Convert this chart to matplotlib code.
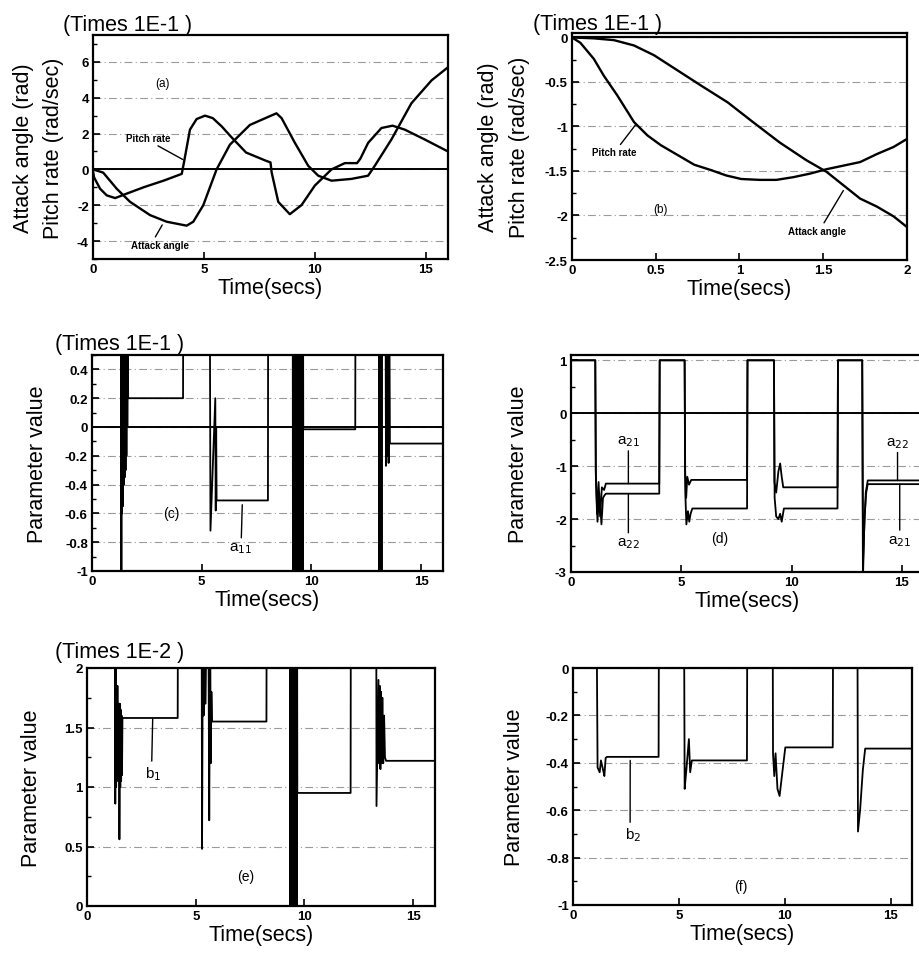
import matplotlib
matplotlib.use('Agg')
import matplotlib.pyplot as plt
from matplotlib.ticker import MultipleLocator

plt.rcParams['font.family'] = ['Liberation Sans', 'DejaVu Sans']
plt.rcParams['axes.unicode_minus'] = False

# (a) attack angle / pitch rate, 0-16 s  (values x 1E-1)
pitch_t = [0, 0.05, 0.32, 0.62, 1.0, 1.5, 2.3, 3.2, 4.0, 4.1, 4.37, 4.67, 5.05, 5.4, 5.8, 6.2, 6.9,
           7.8, 8.0, 8.05, 8.35, 8.87, 9.4, 10.0, 10.75, 11.35, 11.9, 12.05, 12.4, 13.0, 13.5, 14.05,
           14.95, 16.0]
pitch_y = [-0.1, -0.45, -1.08, -1.45, -1.6, -1.36, -0.99, -0.62, -0.25, 0.39, 2.22, 2.81, 3.0, 2.86,
           2.4, 1.85, 0.94, 0.48, 0.39, -0.16, -1.81, -2.5, -1.99, -0.9, 0.0, 0.35, 0.35, 0.6, 1.48,
           2.31, 2.44, 2.22, 1.67, 1.0]
attack_t = [0, 0.46, 1.07, 1.67, 2.57, 3.32, 4.22, 4.52, 4.97, 5.57, 6.17, 7.07, 7.97, 8.27, 8.5,
            9.1, 9.7, 10.15, 10.75, 11.65, 12.4, 12.7, 13.45, 14.35, 15.26, 16.0]
attack_y = [0.0, -0.18, -1.08, -1.81, -2.55, -2.92, -3.14, -2.92, -2.0, 0.0, 1.38, 2.48, 2.97, 3.13,
            2.86, 1.48, 0.2, -0.35, -0.63, -0.53, -0.35, 0.2, 1.67, 3.69, 4.97, 5.7]

# (b) first 2 s
b_pitch_t = [0, 0.05, 0.13, 0.19, 0.27, 0.37, 0.45, 0.53, 0.63, 0.73, 0.83, 0.92, 1.01, 1.12, 1.22,
             1.32, 1.42, 1.52, 1.62, 1.72, 1.82, 1.92, 2.0]
b_pitch_y = [0, -0.06, -0.24, -0.43, -0.65, -0.95, -1.1, -1.21, -1.32, -1.43, -1.49, -1.55, -1.59,
             -1.6, -1.6, -1.57, -1.53, -1.48, -1.44, -1.4, -1.31, -1.23, -1.14]
b_attack_t = [0, 0.13, 0.25, 0.37, 0.49, 0.63, 0.77, 0.93, 1.08, 1.24, 1.4, 1.52, 1.62, 1.72, 1.82,
              1.92, 2.0]
b_attack_y = [0, -0.01, -0.03, -0.09, -0.2, -0.37, -0.54, -0.73, -0.95, -1.18, -1.38, -1.51, -1.66,
              -1.81, -1.9, -2.01, -2.13]

# (c) a11 (x 1E-1)
a11_t = [0, 1.33, 1.34, 1.35, 1.37, 1.39, 1.41, 1.43, 1.45, 1.47, 1.49, 1.51, 1.53, 1.55, 1.57, 1.59,
         1.61, 1.63, 1.65, 4.15, 4.16,
         5.37, 5.40, 5.62, 5.64, 5.66, 5.68, 8.02, 8.03,
         9.15, 9.16, 9.18, 9.20, 9.22, 9.24, 9.26, 9.28, 9.30, 9.32, 9.34, 9.36, 9.38, 9.40, 9.42,
         9.44, 9.46, 9.48, 9.50, 9.52, 9.54, 9.56, 9.58, 9.60, 9.62, 9.63, 12.0, 12.01,
         13.08, 13.10, 13.12, 13.18, 13.20, 13.22, 13.38, 13.40, 13.42, 13.45, 13.48, 13.52, 13.55,
         13.58, 16.0]
a11_y = [1.0, 1.0, -1.2, 1.0, -0.6, 1.0, -0.55, 1.0, -0.4, 1.0, -0.35, 1.0, -0.3, 1.0, -0.2, 0.9,
         0.0, 0.5, 0.2, 0.2, 1.0,
         1.0, -0.72, 0.2, -0.58, 0.0, -0.51, -0.51, 1.0,
         1.0, -1.2, 1.0, -1.2, 1.0, -1.2, 1.0, -1.2, 1.0, -1.2, 1.0, -1.2, 1.0, -1.2, 1.0,
         -1.2, 1.0, -1.2, 1.0, -1.2, 1.0, -1.2, 1.0, -1.2, 1.0, -0.016, -0.016, 1.0,
         1.0, -1.2, 1.0, 1.0, -1.2, 1.0, 1.0, -0.27, 1.0, -0.2, 1.0, -0.25, 1.0,
         -0.115, -0.115]

# (d) a21, a22
a21_t = [0, 1.1, 1.12, 1.18, 1.25, 1.32, 1.4, 1.5, 1.58, 4.0, 4.02,
         5.15, 5.17, 5.22, 5.27, 5.35, 5.45, 7.98, 8.0,
         9.2, 9.22, 9.3, 9.4, 9.48, 9.55, 9.62, 12.08, 12.1,
         13.2, 13.24, 13.3, 13.38, 13.45, 16.0]
a21_y = [1.0, 1.0, -1.1, -1.9, -1.3, -1.95, -1.4, -1.45, -1.33, -1.33, 1.0,
         1.0, -1.1, -1.6, -1.2, -1.35, -1.26, -1.26, 1.0,
         1.0, -1.3, -1.5, -1.1, -0.95, -1.2, -1.4, -1.4, 1.0,
         1.0, -3.0, -2.0, -1.5, -1.34, -1.34]
a22_t = [0, 1.1, 1.13, 1.2, 1.28, 1.38, 1.45, 1.52, 1.58, 4.0, 4.02,
         5.15, 5.18, 5.23, 5.3, 5.36, 5.42, 5.5, 7.98, 8.0,
         9.2, 9.23, 9.3, 9.4, 9.48, 9.55, 9.65, 12.08, 12.1,
         13.2, 13.23, 13.28, 13.36, 13.45, 16.0]
a22_y = [1.0, 1.0, -1.2, -2.05, -1.5, -2.1, -1.6, -1.55, -1.52, -1.52, 1.0,
         1.0, -1.5, -2.1, -1.85, -2.05, -1.9, -1.8, -1.8, 1.0,
         1.0, -1.6, -1.95, -2.0, -1.9, -2.05, -1.8, -1.8, 1.0,
         1.0, -2.9, -2.3, -1.5, -1.27, -1.27]

# (e) b1 (x 1E-2)
b1_t = [0, 1.29, 1.30, 1.32, 1.34, 1.36, 1.38, 1.40, 1.42, 1.44, 1.46, 1.48, 1.49, 1.51, 1.53, 1.55,
        1.57, 1.59, 1.61, 1.63, 4.17, 4.18,
        5.27, 5.29, 5.33, 5.36, 5.40, 5.45, 5.50, 5.58, 5.62, 5.66, 5.69, 5.72, 5.75, 8.25, 8.26,
        9.33, 9.345, 9.36, 9.375, 9.39, 9.405, 9.42, 9.435, 9.45, 9.465, 9.48, 9.495, 9.51, 9.525,
        9.54, 9.555, 9.57, 9.585, 9.60, 9.615, 9.63, 9.645, 9.66, 9.67, 12.12, 12.13,
        13.30, 13.31, 13.40, 13.43, 13.46, 13.49, 13.52, 13.55, 13.58, 13.62, 13.66, 13.70, 13.75,
        16.0]
b1_y = [2.5, 2.5, 0.86, 2.5, 1.0, 1.82, 1.05, 1.85, 1.1, 1.7, 1.05, 1.7, 0.56, 1.7, 1.0, 1.65,
        1.05, 1.6, 1.1, 1.58, 1.58, 2.5,
        2.5, 0.48, 2.5, 1.6, 2.5, 1.7, 2.5, 2.5, 0.72, 2.5, 1.2, 1.8, 1.55, 1.55, 2.5,
        2.5, -0.5, 2.5, -0.5, 2.5, -0.5, 2.5, -0.5, 2.5, -0.5, 2.5, -0.5, 2.5, -0.5,
        2.5, -0.5, 2.5, -0.5, 2.5, -0.5, 2.5, -0.5, 2.5, 0.95, 0.95, 2.5,
        2.5, 0.84, 1.9, 1.2, 1.85, 1.15, 1.8, 1.2, 1.75, 1.2, 1.6, 1.25, 1.22,
        1.22]

# (f) b2
b2_t = [0, 1.13, 1.16, 1.26, 1.32, 1.42, 1.48, 1.54, 1.6, 4.04, 4.05,
        5.25, 5.27, 5.35, 5.47, 5.53, 5.61, 8.21, 8.22,
        9.43, 9.44, 9.5, 9.56, 9.65, 9.75, 9.86, 10.02, 12.26, 12.27,
        13.43, 13.45, 13.55, 13.68, 13.79, 16.0]
b2_y = [0, 0, -0.42, -0.44, -0.39, -0.43, -0.456, -0.38, -0.375, -0.375, 0,
        0, -0.51, -0.43, -0.30, -0.44, -0.39, -0.39, 0,
        0, -0.36, -0.456, -0.36, -0.51, -0.54, -0.456, -0.335, -0.335, 0,
        0, -0.69, -0.6, -0.43, -0.34, -0.34]

W, H = 920, 954
fig = plt.figure(figsize=(9.2, 9.54), dpi=100)


def make_ax(l, r, t, b):
    ax = fig.add_axes([l / W, 1 - b / H, (r - l) / W, (b - t) / H])
    for s in ax.spines.values():
        s.set_linewidth(1.6)
    ax.tick_params(direction='in', length=5, width=1.2, labelsize=9.5, pad=3)
    ax.tick_params(which='minor', direction='in', length=3, width=1.0)
    ax.grid(axis='y', color='#9a9a9a', linestyle=(0, (7, 3, 1, 3)), linewidth=0.8)
    ax.set_axisbelow(True)
    return ax


def labels(ax, ylab, ypad=4):
    ax.set_xlabel('Time(secs)', fontsize=15.5, labelpad=1)
    ax.set_ylabel(ylab, fontsize=15.5, labelpad=ypad, linespacing=1.6)
    for lab in ax.get_xticklabels() + ax.get_yticklabels():
        lab.set_fontweight('bold')


lw = 1.7
slw = 1.3
ann = dict(arrowstyle='-', color='k', lw=1.0, shrinkA=0, shrinkB=0)

# (a)
ax = make_ax(93, 448, 36, 260)
ax.plot(pitch_t, pitch_y, 'k', lw=lw)
ax.plot(attack_t, attack_y, 'k', lw=lw)
ax.axhline(0, color='k', lw=1.4)
ax.set_xlim(0, 16)
ax.set_ylim(-5, 7.5)
ax.set_yticks([-4, -2, 0, 2, 4, 6])
ax.set_xticks([0, 5, 10, 15])
ax.yaxis.set_minor_locator(MultipleLocator(1))
ax.text(3.15, 4.8, '(a)', fontsize=8.5, ha='center', va='center')
ax.annotate('Pitch rate', xy=(4.05, 0.55), xytext=(2.5, 1.75), fontsize=7, fontweight='bold',
            ha='center', va='center', arrowprops=dict(ann, relpos=(0.6, 0)))
ax.annotate('Attack angle', xy=(3.12, -3.1), xytext=(3.0, -4.2), fontsize=7, fontweight='bold',
            ha='center', va='center', arrowprops=dict(ann, relpos=(0.4, 1)))
labels(ax, 'Attack angle (rad)\nPitch rate (rad/sec)', ypad=9)
fig.text(63 / W, 1 - 31 / H, '(Times 1E-1 )', fontsize=15.5, va='baseline')

# (b)
ax = make_ax(572, 907, 34, 261)
ax.plot(b_pitch_t, b_pitch_y, 'k', lw=lw)
ax.plot(b_attack_t, b_attack_y, 'k', lw=lw)
ax.axhline(0, color='k', lw=1.6)
ax.set_xlim(0, 2)
ax.set_ylim(-2.5, 0.05)
ax.set_yticks([-2.5, -2, -1.5, -1, -0.5, 0])
ax.set_yticklabels(['-2.5', '-2', '-1.5', '-1', '-0.5', '0'])
ax.set_xticks([0, 0.5, 1, 1.5, 2])
ax.set_xticklabels(['0', '0.5', '1', '1.5', '2'])
ax.yaxis.set_minor_locator(MultipleLocator(0.25))
ax.text(0.53, -1.93, '(b)', fontsize=8.5, ha='center', va='center')
ax.annotate('Pitch rate', xy=(0.38, -0.98), xytext=(0.25, -1.29), fontsize=7, fontweight='bold',
            ha='center', va='center', arrowprops=dict(ann, relpos=(0.6, 1)))
ax.annotate('Attack angle', xy=(1.62, -1.72), xytext=(1.46, -2.17), fontsize=7, fontweight='bold',
            ha='center', va='center', arrowprops=dict(ann, relpos=(0.6, 1)))
labels(ax, 'Attack angle (rad)\nPitch rate (rad/sec)', ypad=11)
fig.text(533 / W, 1 - 30 / H, '(Times 1E-1 )', fontsize=15.5, va='baseline')

# (c)
ax = make_ax(92, 443, 356, 572)
ax.plot(a11_t, a11_y, 'k', lw=slw)
ax.axhline(0, color='k', lw=1.4)
ax.set_xlim(0, 16)
ax.set_ylim(-1, 0.5)
ax.set_yticks([-1, -0.8, -0.6, -0.4, -0.2, 0, 0.2, 0.4])
ax.set_yticklabels(['-1', '-0.8', '-0.6', '-0.4', '-0.2', '0', '0.2', '0.4'])
ax.set_xticks([0, 5, 10, 15])
ax.yaxis.set_minor_locator(MultipleLocator(0.1))
ax.text(3.62, -0.6, '(c)', fontsize=10, ha='center', va='center')
ax.annotate('a$_{11}$', xy=(6.85, -0.54), xytext=(6.75, -0.84), fontsize=11,
            ha='center', va='center', arrowprops=dict(ann, relpos=(0.55, 1)))
labels(ax, 'Parameter value', ypad=12)
fig.text(55 / W, 1 - 350 / H, '(Times 1E-1 )', fontsize=15.5, va='baseline')

# (d)
ax = make_ax(571, 924, 356, 573)
ax.plot(a21_t, a21_y, 'k', lw=slw)
ax.plot(a22_t, a22_y, 'k', lw=slw)
ax.axhline(0, color='k', lw=1.4)
ax.set_xlim(0, 16)
ax.set_ylim(-3, 1.1)
ax.set_yticks([-3, -2, -1, 0, 1])
ax.set_xticks([0, 5, 10, 15])
ax.yaxis.set_minor_locator(MultipleLocator(0.5))
ax.text(6.75, -2.35, '(d)', fontsize=10, ha='center', va='center')
ax.annotate('a$_{21}$', xy=(2.6, -1.33), xytext=(2.6, -0.52), fontsize=11,
            ha='center', va='center', arrowprops=dict(ann, relpos=(0.5, 0)))
ax.annotate('a$_{22}$', xy=(2.6, -1.52), xytext=(2.6, -2.45), fontsize=11,
            ha='center', va='center', arrowprops=dict(ann, relpos=(0.5, 1)))
ax.annotate('a$_{22}$', xy=(14.8, -1.27), xytext=(14.8, -0.55), fontsize=11,
            ha='center', va='center', arrowprops=dict(ann, relpos=(0.5, 0)))
ax.annotate('a$_{21}$', xy=(14.9, -1.34), xytext=(14.9, -2.4), fontsize=11,
            ha='center', va='center', arrowprops=dict(ann, relpos=(0.5, 1)))
labels(ax, 'Parameter value', ypad=19)

# (e)
ax = make_ax(87, 435, 669, 907)
ax.plot(b1_t, b1_y, 'k', lw=slw)
ax.set_xlim(0, 16)
ax.set_ylim(0, 2)
ax.set_yticks([0, 0.5, 1, 1.5, 2])
ax.set_yticklabels(['0', '0.5', '1', '1.5', '2'])
ax.set_xticks([0, 5, 10, 15])
ax.yaxis.set_minor_locator(MultipleLocator(0.25))
ax.text(7.3, 0.25, '(e)', fontsize=10, ha='center', va='center')
ax.annotate('b$_1$', xy=(3.02, 1.57), xytext=(3.05, 1.12), fontsize=11,
            ha='center', va='center', arrowprops=dict(ann, relpos=(0.4, 1)))
labels(ax, 'Parameter value', ypad=16)
fig.text(55 / W, 1 - 658 / H, '(Times 1E-2 )', fontsize=15.5, va='baseline')

# (f)
ax = make_ax(573, 912, 669, 906)
ax.plot(b2_t, b2_y, 'k', lw=slw)
ax.set_xlim(0, 16)
ax.set_ylim(-1, 0)
ax.set_yticks([-1, -0.8, -0.6, -0.4, -0.2, 0])
ax.set_yticklabels(['-1', '-0.8', '-0.6', '-0.4', '-0.2', '0'])
ax.set_xticks([0, 5, 10, 15])
ax.yaxis.set_minor_locator(MultipleLocator(0.1))
ax.text(7.9, -0.92, '(f)', fontsize=10, ha='center', va='center')
ax.annotate('b$_2$', xy=(2.7, -0.39), xytext=(2.85, -0.7), fontsize=11,
            ha='center', va='center', arrowprops=dict(ann, relpos=(0.3, 1)))
labels(ax, 'Parameter value', ypad=15)

fig.savefig('out.png', dpi=100, facecolor='white')
